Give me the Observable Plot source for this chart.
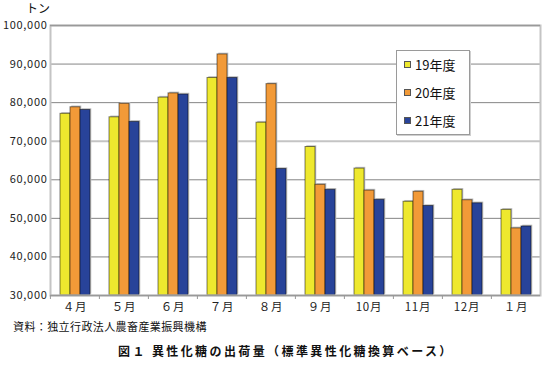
<!DOCTYPE html>
<html><head><meta charset="utf-8">
<script src="https://cdn.jsdelivr.net/npm/d3@7"></script>
<script src="https://cdn.jsdelivr.net/npm/@observablehq/plot@0.6"></script>
<style>
body{margin:0;background:#fff;font-family:"Noto Sans CJK JP",sans-serif;}
#wrap{position:relative;width:543px;height:368px;overflow:hidden;}
.abs{position:absolute;white-space:nowrap;color:#111;}
#legend{position:absolute;left:396px;top:50px;width:72px;height:83px;border:1px solid #9a9a9a;box-shadow:1px 1px 0 #cfcfcf;background:#fff;}
.li{position:absolute;left:7px;font-size:13px;line-height:15px;color:#111;}
.sw{display:inline-block;width:5px;height:5px;border:1px solid #555;margin-right:4px;vertical-align:2px;}
</style></head>
<body><div id="wrap"></div>
<script>
const months = ["４月","５月","６月","７月","８月","９月","10月","11月","12月","１月"];
const seriesNames = ["19年度","20年度","21年度"];
const v19 = [77100,76200,81300,86400,74800,68500,62900,54300,57400,52200];
const v20 = [78800,79700,82400,92500,84800,58700,57200,56900,54700,47400];
const v21 = [78100,75000,82100,86400,62800,57400,54800,53200,53900,47900];
const colors = ["#EEE82E","#F29A38","#284399"];
const yTicks = [30000,40000,50000,60000,70000,80000,90000,100000];
const gridDark = [40000,50000,60000,80000,90000];
const gridLight = [70000];

const seriesVals = [v19, v20, v21];
const data = [];
months.forEach((m, i) => seriesNames.forEach((s, j) => data.push({month: m, series: s, value: seriesVals[j][i]})));

const chart = Plot.plot({
  width: 543, height: 368,
  marginTop: 25, marginBottom: 73, marginLeft: 49, marginRight: 2,
  style: {fontFamily: '"Noto Sans CJK JP", sans-serif', background: "transparent"},
  fx: {domain: months, padding: 0, label: null, axis: null},
  x: {domain: seriesNames, paddingInner: 0.03, paddingOuter: 0.77, axis: null},
  y: {domain: [30000, 100000], axis: null},
  color: {domain: seriesNames, range: colors},
  marks: [
    Plot.ruleY(gridDark, {stroke: "#858585", strokeWidth: 1}),
    Plot.ruleY(gridLight, {stroke: "#c4c4c4", strokeWidth: 2}),
    Plot.barY(data, {fx: "month", x: "series", y1: d => 30000, y2: "value", fill: "#c4c4c4", dx: 1.3, dy: -1.3}),
    Plot.barY(data, {fx: "month", x: "series", y1: d => 30000, y2: "value", fill: "series", stroke: "#000", strokeOpacity: 0.5, strokeWidth: 1}),
    Plot.frame({facet: "super", stroke: "#c4c4c4", strokeWidth: 2}),
    Plot.ruleY([100000], {stroke: "#999", strokeWidth: 1.3}),
    Plot.ruleY([30000], {stroke: "#999", strokeWidth: 1.3}),
    Plot.axisY({ticks: yTicks, tickFormat: d3.format(","), tickSize: 0, tickPadding: 3, fontSize: 11, label: null, fill: "#222"}),
    Plot.axisFx({anchor: "bottom", tickSize: 4, tickFormat: () => "", dx: -24.6, label: null, stroke: "#999"}),
    Plot.axisFx({anchor: "bottom", tickSize: 0, tickPadding: 7, fontSize: 11.5, label: null, fill: "#222"})
  ]
});
chart.querySelectorAll('[aria-label="y-axis tick label"] text').forEach(t => t.setAttribute("letter-spacing", "0.7"));
chart.querySelectorAll('[aria-label="fx-axis tick label"] text').forEach(t => t.setAttribute("letter-spacing", "0.8"));
const wrap = document.getElementById("wrap");
wrap.appendChild(chart);

const unit = document.createElement("div");
unit.className = "abs"; unit.textContent = "トン";
Object.assign(unit.style, {left: "26px", top: "0px", fontSize: "12px", lineHeight: "16px"});
wrap.appendChild(unit);

const legend = document.createElement("div");
legend.id = "legend";
seriesNames.forEach((s, j) => {
  const li = document.createElement("div");
  li.className = "li";
  li.style.top = (6 + 28 * j) + "px";
  const sw = document.createElement("span");
  sw.className = "sw"; sw.style.background = colors[j];
  li.appendChild(sw);
  li.appendChild(document.createTextNode(s));
  legend.appendChild(li);
});
wrap.appendChild(legend);

const src = document.createElement("div");
src.className = "abs"; src.textContent = "資料：独立行政法人農畜産業振興機構";
Object.assign(src.style, {left: "13px", top: "318px", fontSize: "11px", letterSpacing: "0.4px", lineHeight: "16px"});
wrap.appendChild(src);

const title = document.createElement("div");
title.className = "abs"; title.textContent = "図１ 異性化糖の出荷量（標準異性化糖換算ベース）";
Object.assign(title.style, {left: "118px", top: "343px", fontSize: "12px", fontWeight: "bold", letterSpacing: "2.4px", lineHeight: "16px"});
wrap.appendChild(title);
</script>
</body></html>
